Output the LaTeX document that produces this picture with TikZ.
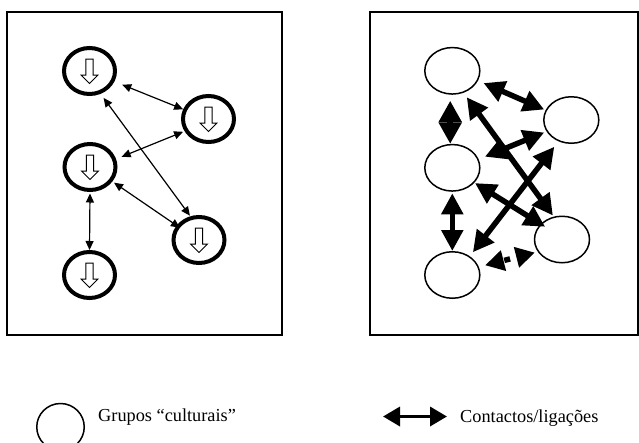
\documentclass[tikz,border=0pt]{standalone}
\usepackage{fontspec}
\setmainfont{Liberation Serif}
\usetikzlibrary{shapes.geometric,arrows.meta}
\tikzset{
  ring/.style={ellipse,draw,line width=4pt,minimum width=51pt,minimum height=46pt,inner sep=0pt},
  oval/.style={ellipse,draw,line width=1.5pt,minimum width=55pt,minimum height=46.5pt,inner sep=0pt},
  tarr/.style={line width=1.2pt,{Triangle[length=9pt,width=8pt]}-{Triangle[length=9pt,width=8pt]}},
  barr/.style={line width=5.5pt,{Triangle[length=21pt,width=21pt]}-{Triangle[length=21pt,width=21pt]}},
  frame/.style={draw,line width=1.2pt},
  legtext/.style={anchor=base west,inner sep=0pt,font=\fontsize{18.3pt}{22pt}\selectfont},
  downarr/.pic={\draw[line width=1pt,fill=white,line join=miter]
     (-3.7,-12) -- (3.7,-12) -- (3.7,4) -- (8.5,4) -- (0,12.5) -- (-8.5,4) -- (-3.7,4) -- cycle;}
}
\begin{document}
\begin{tikzpicture}[x=1pt,y=-1pt]
\useasboundingbox (0,0) rectangle (639,442);
% frames
\draw[frame] (7,12) rectangle (282,335);
\draw[frame] (370,12) rectangle (638,335);
% left panel
\node[ring] (A) at (89.5,71) {};
\node[ring] (B) at (208.5,119) {};
\node[ring] (C) at (90,167) {};
\node[ring] (D) at (199,240) {};
\node[ring] (E) at (89.5,275) {};
\foreach \n in {A,B,C,D,E} {\pic at (\n) {downarr};}
\draw[tarr,shorten <=8.4pt] (A.-23) -- (B.159);
\draw[tarr,shorten <=5pt,shorten >=0.7pt] (A.-64) -- (D.110.6);
\draw[tarr,shorten <=1.5pt,shorten >=6pt] (B.-153.4) -- (C.17.4);
\draw[tarr,shorten <=2pt,shorten >=-4pt] (C.-33.7) -- (D.147.7);
\draw[tarr,shorten <=1.5pt] (C.south) -- (E.north);
% right panel
\node[oval] (A2) at (452.3,70.8) {};
\node[oval] (B2) at (571.3,120) {};
\node[oval] (C2) at (452.3,167.8) {};
\node[oval] (D2) at (562,239.5) {};
\node[oval] (E2) at (452.3,275) {};
\draw[barr,shorten <=6pt,shorten >=1.5pt] (A2.-21) -- (B2.159);
\draw[line width=5.5pt,{Triangle[length=21.5pt,width=22pt]}-{Triangle[length=21.5pt,width=22pt]},shorten <=6pt] (A2.265.6) -- (C2.95.5);
\draw[barr,shorten <=5.5pt,shorten >=1.3pt] (A2.-63) -- (D2.110);
\draw[barr,shorten <=2.5pt,shorten >=6.7pt] (B2.-155.5) -- (C2.18);
\draw[barr,shorten <=6.8pt,shorten >=5pt] (B2.-121) -- (E2.47);
\draw[barr,shorten <=0.7pt,shorten >=-5.4pt] (C2.-34) -- (D2.144);
\draw[barr,shorten <=1.5pt] (C2.south) -- (E2.north);
\draw[line width=5.5pt,{Triangle[length=19pt,width=20pt]}-{Triangle[length=19pt,width=20pt]},dash pattern=on 6pt off 7pt,dash phase=11pt,shorten <=6.4pt,shorten >=3pt] (E2.17) -- (D2.-153);
% legend
\node[ellipse,draw,line width=1.5pt,minimum width=47.5pt,minimum height=47pt,inner sep=0pt] (L1) at (60.5,427) {};
\node[legtext] (T1) at (98,421.7) {Grupos “culturais”};
\coordinate (la) at (383,416.5);
\coordinate (lb) at (447,416.5);
\draw[line width=3.5pt,{Triangle[length=17pt,width=19pt]}-{Triangle[length=17pt,width=19pt]}] (la) -- (lb);
\node[legtext] (T2) at (460,422.7) {Contactos/ligações};
\end{tikzpicture}
\end{document}
